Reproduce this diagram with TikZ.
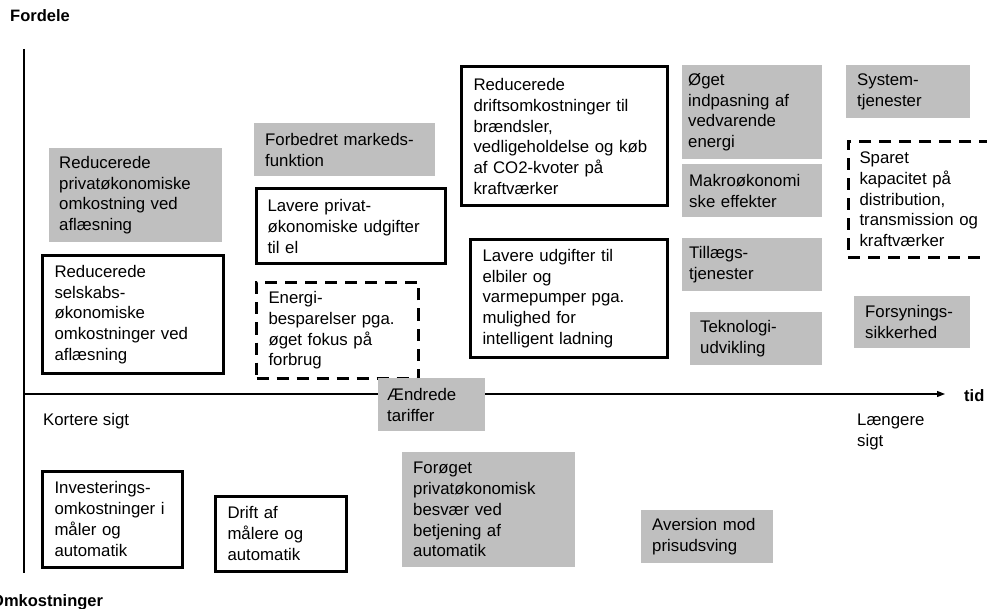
\documentclass[tikz,border=0pt]{standalone}
\usepackage{fontspec}
\setmainfont{Liberation Sans}
\usetikzlibrary{arrows.meta}
\definecolor{boxgrey}{RGB}{191,191,191}
\begin{document}
\begin{tikzpicture}[x=1pt,y=-1pt,
  every node/.style={inner sep=0pt, font=\fontsize{16.8}{20.7}\selectfont},
  base/.style={anchor=north west, align=left, inner sep=0pt},
  gbox/.style={base, fill=boxgrey},
  bbox/.style={base, draw=black, line width=3pt},
  dbox/.style={base, draw=black, line width=3pt, dash pattern=on 12pt off 8pt},
  axis/.style={line width=1.3pt},
  lbl/.style={font=\fontsize{16.5}{20}\selectfont\bfseries}]
\useasboundingbox (0,0) rectangle (987,609);
% axes
\coordinate (ytop) at (24,49);
\coordinate (ybot) at (24,573);
\coordinate (orig) at (24,394);
\coordinate (xend) at (945,394);
\draw[axis] (ytop) -- (ybot);
\draw[axis, -{Triangle[length=8pt,width=6pt]}] (orig) -- (xend);
% labels
\node[lbl, anchor=base west] (fordele) at (10,22) {Fordele};
\node[lbl, anchor=base west] (omk) at (-9,606) {Omkostninger};
\node[lbl, anchor=base west] (tid) at (964,401) {tid};
\node[anchor=base west] (kort) at (43,425) {Kortere sigt};
\node[anchor=west, align=left] (lang) at (857,432) {Længere\\sigt};
% upper boxes
\node[gbox, minimum width=173pt, minimum height=94pt, text width=153pt] (g1) at (49,148) {Reducerede\\privatøkonomiske\\omkostning ved\\aflæsning};
\node[bbox, minimum width=181pt, minimum height=117pt, text width=156pt] (b1) at (40.5,254.5) {Reducerede\\selskabs-\\økonomiske\\omkostninger ved\\aflæsning};
\node[gbox, minimum width=181pt, minimum height=53pt, text width=159pt] (g2) at (254,123) {Forbedret markeds-\\funktion};
\node[bbox, minimum width=189pt, minimum height=75pt, text width=166pt] (b2) at (254.5,187.5) {Lavere privat-\\økonomiske udgifter\\til el};
\node[dbox, minimum width=162pt, minimum height=96pt, text width=138pt] (d1) at (255,281) {Energi-\\besparelser pga.\\øget fokus på\\forbrug};
\node[gbox, minimum width=107pt, minimum height=53pt, text width=89pt] (g3) at (378,378) {Ændrede\\tariffer};
\node[bbox, minimum width=206pt, minimum height=139pt, text width=181pt] (b3) at (459.5,65.5) {Reducerede\\driftsomkostninger til\\brændsler,\\vedligeholdelse og køb\\af CO2-kvoter på\\kraftværker};
\node[bbox, minimum width=197pt, minimum height=117pt, text width=172pt] (b4) at (468.5,238.5) {Lavere udgifter til\\elbiler og\\varmepumper pga.\\mulighed for\\intelligent ladning};
\node[gbox, minimum width=140pt, minimum height=94pt, text width=128pt] (g4) at (682,65) {Øget\\indpasning af\\vedvarende\\energi};
\node[gbox, minimum width=140pt, minimum height=53pt, text width=126pt] (g5) at (682,164) {Makroøkonomi\\ske effekter};
\node[gbox, minimum width=140pt, minimum height=53pt, text width=126pt] (g6) at (682,238) {Tillægs-\\tjenester};
\node[gbox, minimum width=132pt, minimum height=53pt, text width=112pt] (g7) at (690,312) {Teknologi-\\udvikling};
\node[gbox, minimum width=124pt, minimum height=53pt, text width=102pt] (g8) at (846,65) {System-\\tjenester};
\node[dbox, minimum width=163.5pt, minimum height=116pt, text width=140.5pt] (d2) at (846.5,140) {Sparet\\kapacitet på\\distribution,\\transmission og\\kraftværker};
\node[gbox, minimum width=116pt, minimum height=52pt, text width=94pt] (g9) at (854,296) {Forsynings-\\sikkerhed};
% lower boxes
\node[gbox, minimum width=173pt, minimum height=115pt, text width=151pt] (g10) at (402,452) {Forøget\\privatøkonomisk\\besvær ved\\betjening af\\automatik};
\node[gbox, minimum width=132pt, minimum height=53pt, text width=110pt] (g11) at (641,510) {Aversion mod\\prisudsving};
\node[bbox, minimum width=140pt, minimum height=96pt, text width=115pt] (b5) at (40.5,469.5) {Investerings-\\omkostninger i\\måler og\\automatik};
\node[bbox, minimum width=131pt, minimum height=75pt, text width=106pt] (b6) at (213.5,494.5) {Drift af\\målere og\\automatik};
\end{tikzpicture}
\end{document}
